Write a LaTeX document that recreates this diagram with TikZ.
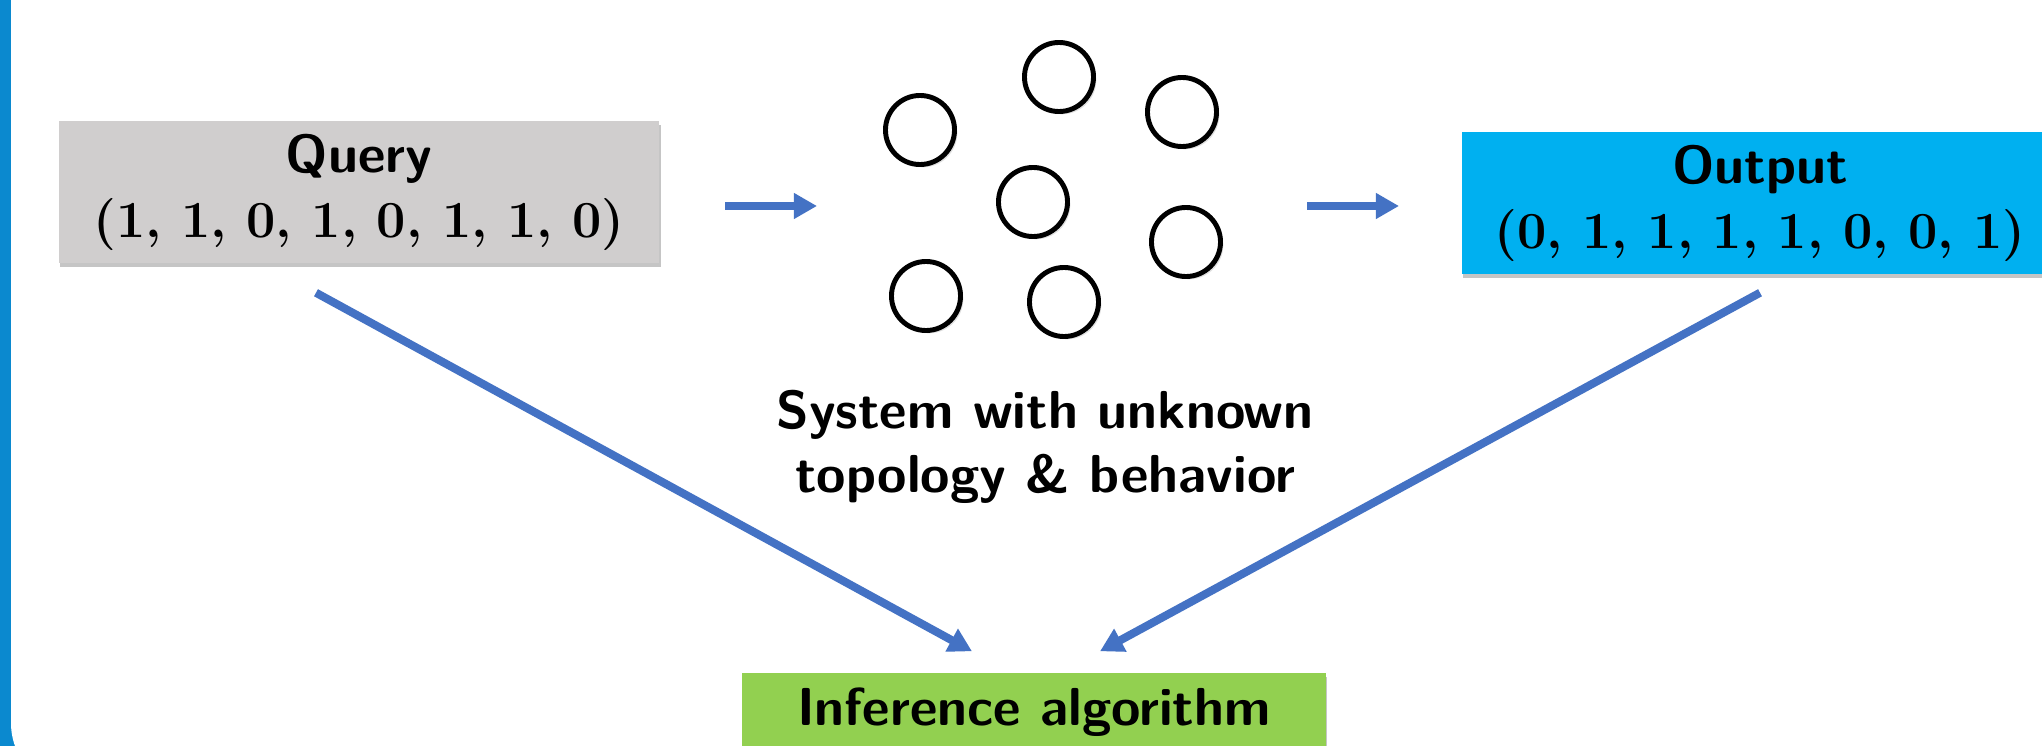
\documentclass[tikz,border=0pt]{standalone}
\usepackage{fix-cm}
\usetikzlibrary{arrows.meta, positioning, calc, shadows}
\definecolor{querygray}{RGB}{208,206,206}
\definecolor{outputblue}{RGB}{0,176,240}
\definecolor{algogreen}{RGB}{146,208,80}
\definecolor{arrowblue}{RGB}{68,114,196}
\definecolor{framecol}{RGB}{11,137,207}
\newcommand{\bitfont}{\rmfamily\fontsize{14.8}{18.5}\selectfont}
\tikzset{
    data box/.style={rectangle, minimum width=6cm, minimum height=1.42cm, align=center, inner sep=0pt, font=\sffamily\bfseries\fontsize{15.2}{18.5}\selectfont, drop shadow={shadow xshift=0.4pt, shadow yshift=-1.2pt, opacity=0.45}},
    algo box/.style={rectangle, fill=algogreen, minimum width=5.83cm, minimum height=0.78cm, inner sep=0pt, font=\sffamily\bfseries\fontsize{15.2}{18}\selectfont, drop shadow={shadow xshift=0.4pt, shadow yshift=-1.2pt, opacity=0.45}},
    unit/.style={circle, draw, line width=1.4pt, fill=white, minimum size=0.69cm, inner sep=0pt, drop shadow={shadow xshift=0.8pt, shadow yshift=-0.8pt, opacity=0.25}},
    sys label/.style={align=center, inner sep=0pt, font=\sffamily\bfseries\fontsize{15.2}{18.2}\selectfont},
    flow/.style={draw=arrowblue, line width=2.3pt, -{Triangle[length=6.6pt, width=7pt]}}
}
\begin{document}
\begin{tikzpicture}[x=0.01cm, y=-0.01cm]
    \clip (0,0) rectangle (2042,746);
    % slide frame on the left
    \fill[framecol] (0,-10) rectangle (80,760);
    \fill[white, rounded corners=0.68cm] (11,-200) rectangle (2200,791);

    \node[data box, fill=querygray] (query) at (359,192) {Query\\ \bitfont(1, 1, 0, 1, 0, 1, 1, 0)};
    \node[data box, fill=outputblue, minimum width=5.96cm] (output) at (1760,203) {Output\\ \bitfont(0, 1, 1, 1, 1, 0, 0, 1)};
    \node[algo box] (algo) at (1034,712) {Inference algorithm};

    % the black box system
    \node[unit] (n1) at (920,130) {};
    \node[unit] (n2) at (1059,77) {};
    \node[unit] (n3) at (1182,112) {};
    \node[unit] (n4) at (1033,202) {};
    \node[unit] (n5) at (1186,242) {};
    \node[unit] (n6) at (926,296) {};
    \node[unit] (n7) at (1064,302) {};
    \node[sys label] (syslabel) at (1045,447) {System with unknown\\topology \& behavior};

    \coordinate (feedA) at (725,206);
    \coordinate (feedB) at (817,206);
    \coordinate (readA) at (1307,206);
    \coordinate (readB) at (1399,206);
    \coordinate (qfoot) at ($(query.south)+(-43,29)$);
    \coordinate (ofoot) at ($(output.south)+(0,18)$);
    \coordinate (ain) at ($(algo.north)+(-62,-21)$);
    \coordinate (bin) at ($(algo.north)+(66,-21)$);

    \draw[flow] (feedA) -- (feedB);
    \draw[flow] (readA) -- (readB);
    \draw[flow] (qfoot) -- (ain);
    \draw[flow] (ofoot) -- (bin);
\end{tikzpicture}
\end{document}
